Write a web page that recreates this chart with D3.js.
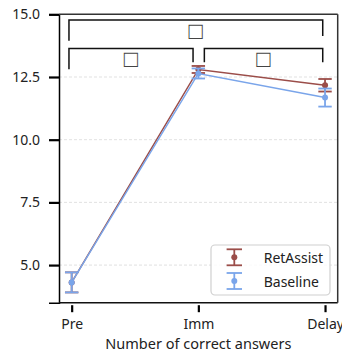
<!DOCTYPE html>
<html>
<head>
<meta charset="utf-8">
<script src="https://cdn.jsdelivr.net/npm/d3@7"></script>
<style>
  body { margin: 0; background: #fff; }
  text { font-family: "Noto Sans", sans-serif; }
</style>
</head>
<body>
<div id="chart"></div>
<script>
const width = 342,
    height = 351,
    plotLeft = 59,
    plotRight = 337.7,
    plotTop = 14.3,
    plotBottom = 302.7;

// data
const phases = ["Pre", "Imm", "Delay"];
const retMean = [4.31, 12.80, 12.17];
const retErr = [0.40, 0.14, 0.25];
const baseMean = [4.31, 12.64, 11.68];
const baseErr = [0.40, 0.20, 0.36];
const yTicks = [5.0, 7.5, 10.0, 12.5, 15.0];
const seriesNames = ["RetAssist", "Baseline"];
const seriesColors = ["#9b4d49", "#7aa5ea"];
// significance brackets: [from, to, yBar, yLegFrom, yLegTo]
const brackets = [
  [0, 2, 14.77, 13.95, 14.13],
  [0, 1, 13.64, 12.81, 13.09],
  [1, 2, 13.64, 13.09, 13.09]
];

const svg = d3.select("#chart").append("svg")
  .attr("width", width)
  .attr("height", height);

const x = d3.scaleLinear().domain([-0.1, 2.1]).range([plotLeft, plotRight]);
const y = d3.scaleLinear().domain([3.5, 15]).range([plotBottom, plotTop]);

// grid
svg.append("g").selectAll("line")
  .data(yTicks.filter(d => d < 15))
  .join("line")
  .attr("x1", plotLeft).attr("x2", plotRight)
  .attr("y1", d => y(d)).attr("y2", d => y(d))
  .attr("stroke", "#d9d9d9")
  .attr("stroke-width", 0.8)
  .attr("stroke-dasharray", "3,2");

// y axis
const yAxis = svg.append("g")
  .attr("transform", `translate(${plotLeft},0)`)
  .call(d3.axisLeft(y).tickValues(yTicks).tickFormat(d3.format(".1f")).tickSize(10).tickPadding(9));
yAxis.select(".domain").attr("stroke", "#000").attr("stroke-width", 1.5);
yAxis.selectAll(".tick line").attr("stroke-width", 2.2);
yAxis.selectAll(".tick text").attr("font-size", 14).attr("fill", "#222");

// x axis (ticks only, offset below bottom spine)
const xAxis = svg.append("g")
  .attr("transform", `translate(0,${plotBottom + 2.5})`)
  .call(d3.axisBottom(x).tickValues([0, 1, 2]).tickFormat(i => phases[i]).tickSize(7).tickPadding(7));
xAxis.select(".domain").remove();
xAxis.selectAll(".tick line").attr("stroke-width", 2.2);
xAxis.selectAll(".tick text").attr("font-size", 14).attr("fill", "#222");

// spines
svg.append("line").attr("x1", plotLeft).attr("x2", plotRight).attr("y1", plotBottom).attr("y2", plotBottom)
  .attr("stroke", "#111").attr("stroke-width", 1.5);
svg.append("line").attr("x1", plotLeft).attr("x2", plotRight).attr("y1", plotTop).attr("y2", plotTop)
  .attr("stroke", "#333").attr("stroke-width", 1.5);
svg.append("line").attr("x1", plotRight).attr("x2", plotRight).attr("y1", plotTop).attr("y2", plotBottom)
  .attr("stroke", "#333").attr("stroke-width", 1.5);

// axis title
svg.append("text")
  .attr("x", x(1))
  .attr("y", 348.5)
  .attr("text-anchor", "middle")
  .attr("font-size", 14.5)
  .attr("fill", "#222")
  .text("Number of correct answers");

// series
const drawSeries = (means, errs, color) => {
  const g = svg.append("g");
  const line = d3.line().x((d, i) => x(i)).y(d => y(d));
  g.append("path").datum(means)
    .attr("d", line)
    .attr("fill", "none")
    .attr("stroke", color)
    .attr("stroke-width", 1.5);
  means.forEach((m, i) => {
    const cx = x(i);
    g.append("line").attr("x1", cx).attr("x2", cx)
      .attr("y1", y(m - errs[i])).attr("y2", y(m + errs[i]))
      .attr("stroke", color).attr("stroke-width", 1.8);
    [m - errs[i], m + errs[i]].forEach(v => {
      g.append("line").attr("x1", cx - 6.7).attr("x2", cx + 6.7)
        .attr("y1", y(v)).attr("y2", y(v))
        .attr("stroke", color).attr("stroke-width", 1.8);
    });
    g.append("circle").attr("cx", cx).attr("cy", y(m)).attr("r", 3).attr("fill", color);
  });
};
drawSeries(retMean, retErr, seriesColors[0]);
drawSeries(baseMean, baseErr, seriesColors[1]);

// brackets
const inset = (b) => {
  const x1 = x(b[0]) + (b[0] === 1 ? 6 : -2.7);
  const x2 = x(b[1]) + (b[1] === 1 ? -5.3 : -2.3);
  return [x1, x2];
};
brackets.forEach(b => {
  const [x1, x2] = inset(b);
  svg.append("path")
    .attr("d", `M${x1},${y(b[3])}V${y(b[2])}H${x2}V${y(b[4])}`)
    .attr("fill", "none")
    .attr("stroke", "#111")
    .attr("stroke-width", 1.5);
  svg.append("text")
    .attr("x", (x1 + x2) / 2)
    .attr("y", y(b[2]) + 9.5)
    .attr("text-anchor", "middle")
    .attr("dominant-baseline", "central")
    .attr("font-family", "DejaVu Sans")
    .attr("font-size", 24)
    .attr("fill", "#444")
    .text("□");
});

// legend
const lg = svg.append("g");
lg.append("rect")
  .attr("x", 211).attr("y", 245).attr("width", 119).attr("height", 50)
  .attr("rx", 4)
  .attr("fill", "#fff").attr("fill-opacity", 0.8)
  .attr("stroke", "#d0d0d0").attr("stroke-width", 1.2);
seriesNames.forEach((name, i) => {
  const cy = 257.3 + i * 23.7;
  const c = seriesColors[i];
  lg.append("line").attr("x1", 234.3).attr("x2", 234.3).attr("y1", cy - 8).attr("y2", cy + 8)
    .attr("stroke", c).attr("stroke-width", 1.8);
  [-8, 8].forEach(o => lg.append("line").attr("x1", 226.6).attr("x2", 242)
    .attr("y1", cy + o).attr("y2", cy + o).attr("stroke", c).attr("stroke-width", 1.8));
  lg.append("circle").attr("cx", 234.3).attr("cy", cy).attr("r", 3).attr("fill", c);
  lg.append("text").attr("x", 263.7).attr("y", cy)
    .attr("dominant-baseline", "central")
    .attr("font-size", 14).attr("fill", "#222")
    .text(name);
});
</script>
</body>
</html>
